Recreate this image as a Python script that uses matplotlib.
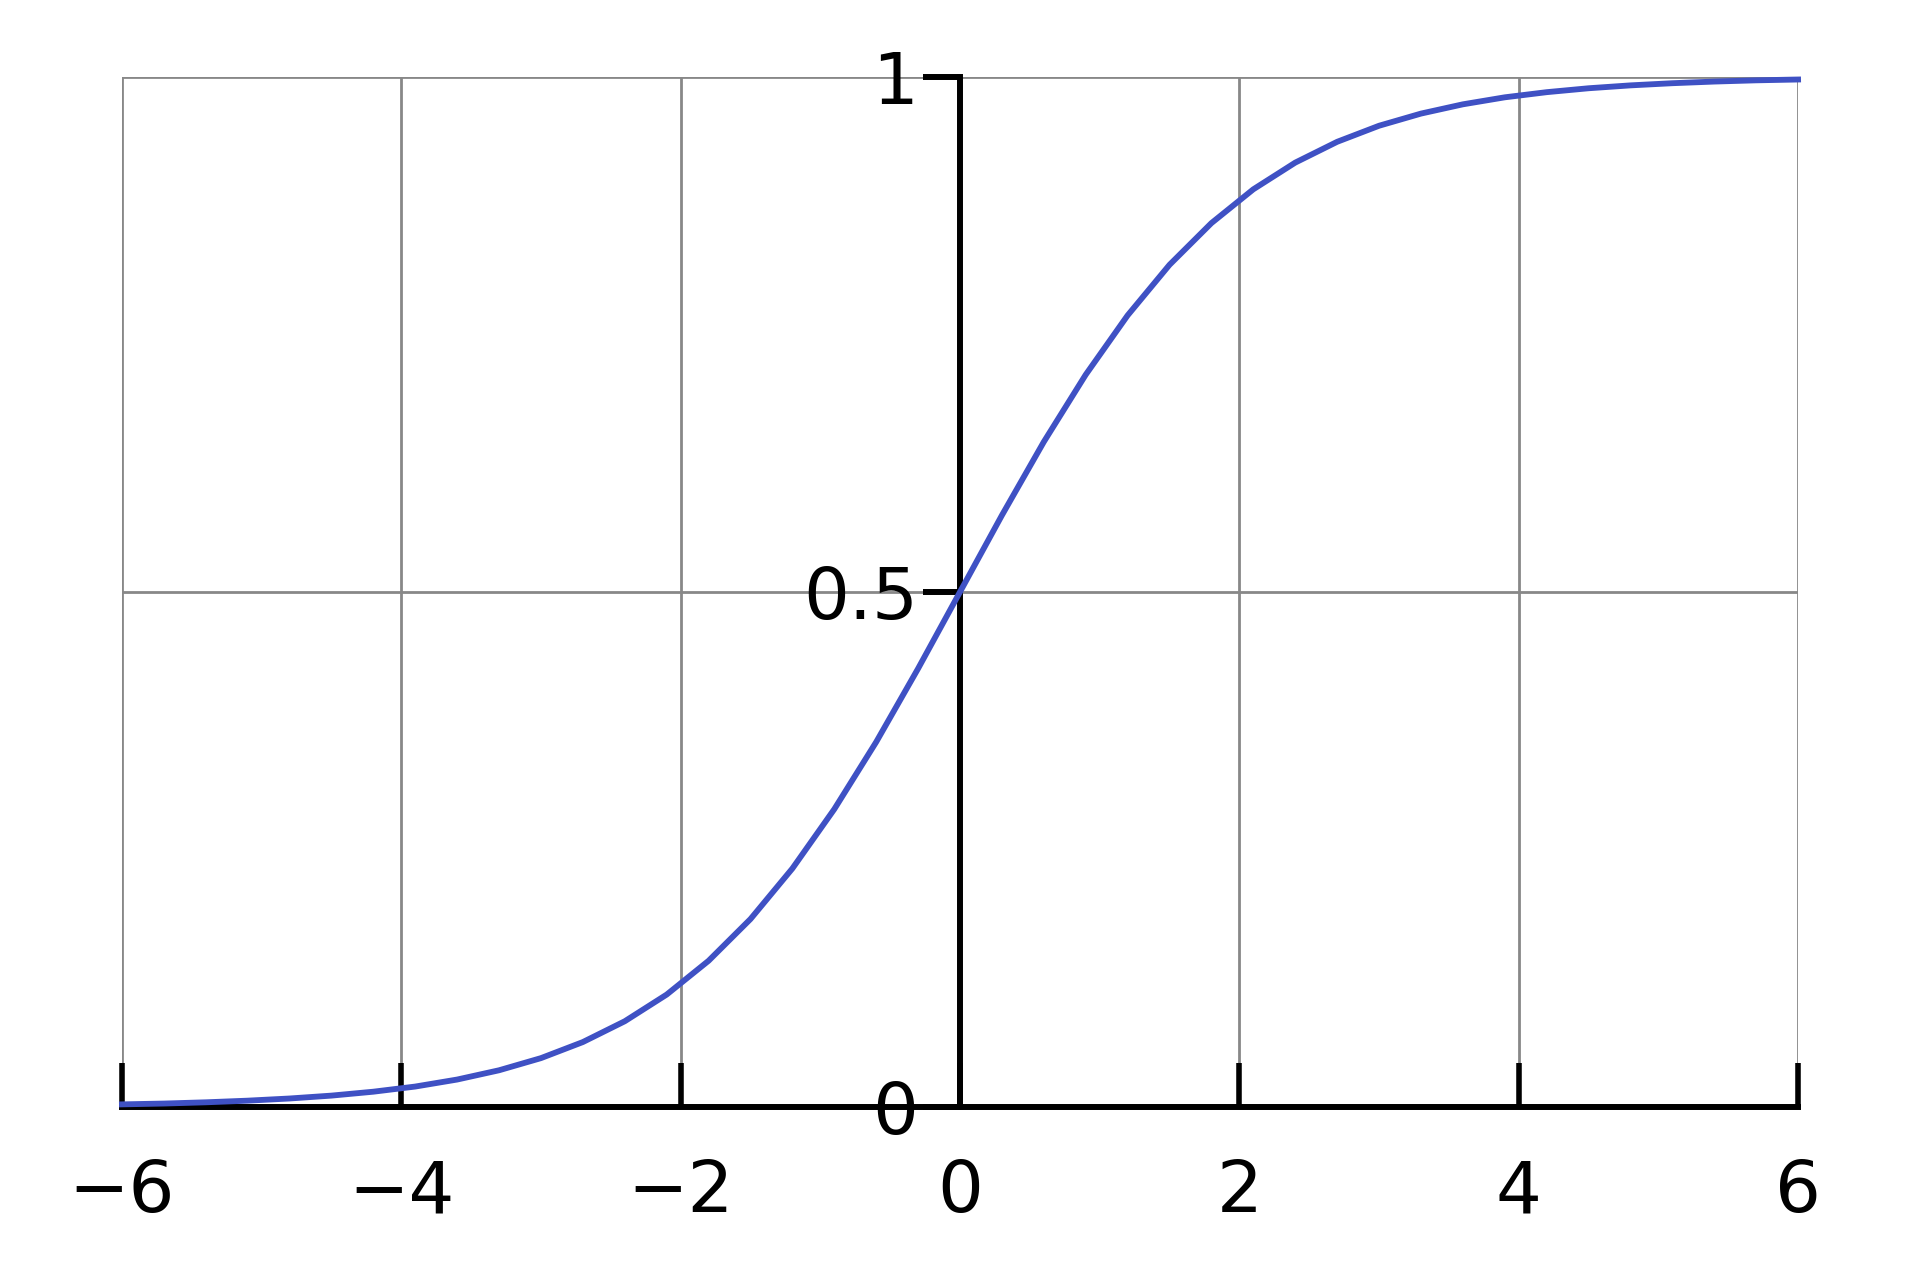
import numpy as np
import matplotlib
matplotlib.use("Agg")
import matplotlib.pyplot as plt

# curve points (logistic-shaped curve)
x_vals = [-6.0, -5.7, -5.4, -5.1, -4.8, -4.5, -4.2, -3.9, -3.6, -3.3,
          -3.0, -2.7, -2.4, -2.1, -1.8, -1.5, -1.2, -0.9, -0.6, -0.3,
          0.0, 0.3, 0.6, 0.9, 1.2, 1.5, 1.8, 2.1, 2.4, 2.7,
          3.0, 3.3, 3.6, 3.9, 4.2, 4.5, 4.8, 5.1, 5.4, 5.7, 6.0]
y_vals = [0.0025, 0.0033, 0.0045, 0.0061, 0.0082, 0.0110, 0.0148, 0.0198, 0.0266, 0.0356,
          0.0474, 0.0630, 0.0832, 0.1091, 0.1419, 0.1824, 0.2315, 0.2891, 0.3543, 0.4256,
          0.5000, 0.5744, 0.6457, 0.7109, 0.7685, 0.8176, 0.8581, 0.8909, 0.9168, 0.9370,
          0.9526, 0.9644, 0.9734, 0.9802, 0.9852, 0.9890, 0.9918, 0.9939, 0.9955, 0.9967, 0.9975]

x_ticks = [-6, -4, -2, 0, 2, 4, 6]
y_ticks = [0, 0.5, 1]
y_labels = ["0", "0.5", "1"]

fig = plt.figure(figsize=(19.2, 12.8), dpi=100)
ax = fig.add_axes([0.0635, 0.1352, 0.873, 0.8047])

ax.plot(x_vals, y_vals, color="#3f51c4", lw=4.2, zorder=5, clip_on=False)

ax.set_xlim(-6, 6)
ax.set_ylim(0, 1)
ax.set_xticks(x_ticks)
ax.set_yticks(y_ticks)
ax.set_yticklabels(y_labels)

ax.grid(True, color="#888888", lw=2.0)
ax.set_axisbelow(True)

for side in ["top", "right"]:
    ax.spines[side].set_visible(False)
ax.spines["left"].set_position(("data", 0))
ax.spines["bottom"].set_position(("data", 0))
for side in ["left", "bottom"]:
    ax.spines[side].set_linewidth(4.3)
    ax.spines[side].set_zorder(3)

ax.tick_params(axis="x", direction="in", length=31.7, width=4.0, pad=37,
               labelsize=52)
ax.tick_params(axis="y", direction="out", length=27, width=4.3, pad=3,
               labelsize=52)

fig.savefig("out.png", dpi=100)
